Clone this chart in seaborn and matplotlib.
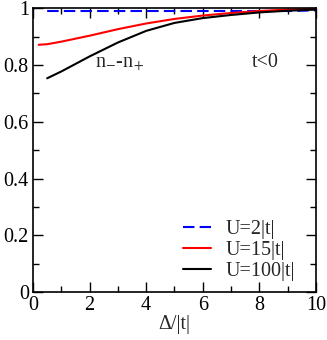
import matplotlib
matplotlib.use("Agg")
import matplotlib.pyplot as plt
import seaborn as sns
import pandas as pd
import numpy as np

# values
delta_u2 = [0.5, 1, 2, 3, 4, 5, 6, 7, 8, 9, 10]
n_u2 = [0.99, 0.99, 0.99, 0.99, 0.99, 0.99, 0.99, 0.99, 0.99, 0.99, 0.992]

delta_u15 = [0.2, 0.5, 1, 2, 3, 4, 5, 6, 7, 8, 9, 10]
n_u15 = [0.871, 0.873, 0.882, 0.903, 0.926, 0.946, 0.962, 0.974, 0.983, 0.99, 0.995, 0.998]

delta_u100 = [0.5, 1, 2, 3, 4, 5, 6, 7, 8, 9, 10]
n_u100 = [0.753, 0.777, 0.83, 0.879, 0.92, 0.948, 0.965, 0.976, 0.985, 0.991, 0.995]

labels = ["U=2|t|", "U=15|t|", "U=100|t|"]
colors = ["#0000ff", "#ff0000", "#000000"]

df = pd.concat([
    pd.DataFrame({"delta": delta_u2, "n": n_u2, "U": labels[0]}),
    pd.DataFrame({"delta": delta_u15, "n": n_u15, "U": labels[1]}),
    pd.DataFrame({"delta": delta_u100, "n": n_u100, "U": labels[2]}),
])

sns.set_theme(style="ticks")
plt.rcParams["font.family"] = ["Liberation Serif", "DejaVu Serif"]
plt.rcParams["mathtext.fontset"] = "stix"

fs = 14.5
fig = plt.figure(figsize=(3.27, 3.4), dpi=100)
ax = fig.add_axes([0.101, 0.141, 0.865, 0.835])

sns.lineplot(data=df, x="delta", y="n", hue="U", style="U",
             palette=dict(zip(labels, colors)),
             dashes={labels[0]: (5.5, 2.5), labels[1]: "", labels[2]: ""},
             linewidth=1.5, ax=ax, legend=True)

ax.set_xlim(0, 10)
ax.set_ylim(0, 1)
ax.set_xticks([0, 2, 4, 6, 8, 10])
ax.set_xticks([1, 3, 5, 7, 9], minor=True)
ax.set_yticks([0, 0.2, 0.4, 0.6, 0.8, 1])
ax.set_yticklabels(["0", "0.2", "0.4", "0.6", "0.8", "1"])
ax.set_yticks(np.arange(0.1, 1.0, 0.2), minor=True)
ax.set_xticklabels(["0", "2", "4", "6", "8", "10"])
ax.tick_params(which="both", direction="in", top=True, right=True,
               labelsize=fs, width=1, colors="black", pad=3)
ax.tick_params(which="major", length=7)
ax.tick_params(which="minor", length=4)
for s in ax.spines.values():
    s.set_linewidth(1.2)
    s.set_color("black")

ax.set_xlabel("Δ/|t|", fontsize=fs, labelpad=0)
ax.set_ylabel("")

ax.text(3.05, 0.80, r"n$_{-}$-n$_{+}$", fontsize=fs, ha="center", va="center")
ax.text(8.2, 0.81, "t<0", fontsize=fs, ha="center", va="center")

leg = ax.legend(loc="lower left", frameon=False, fontsize=fs,
                handlelength=1.4, labelspacing=0.1, handletextpad=0.75,
                bbox_to_anchor=(0.5, 0.01), borderaxespad=0.0)

fig.savefig("out.png", dpi=100)
